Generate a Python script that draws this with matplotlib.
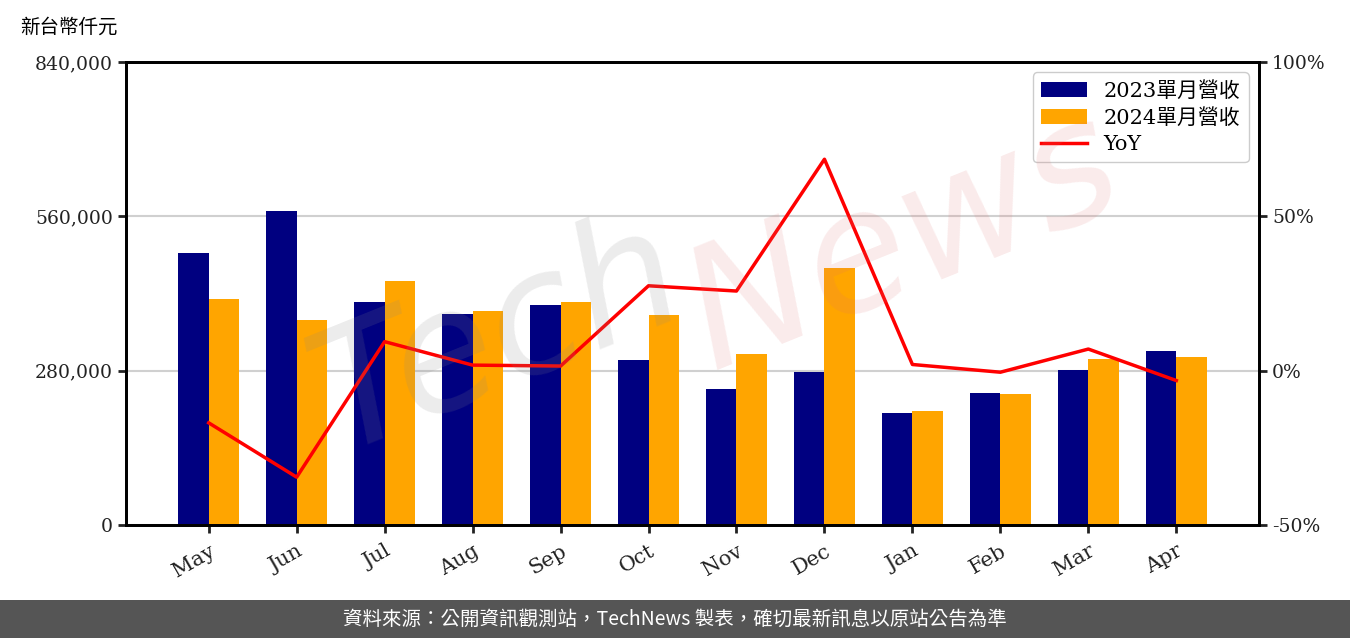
import numpy as np
import matplotlib.pyplot as plt
from matplotlib.ticker import FuncFormatter
import matplotlib.patches as mpatches

plt.rcParams['font.family'] = ['DejaVu Serif', 'Noto Sans CJK TC', 'DejaVu Sans']

months = ['May', 'Jun', 'Jul', 'Aug', 'Sep', 'Oct', 'Nov', 'Dec', 'Jan', 'Feb', 'Mar', 'Apr']
rev_2023 = [493500, 569700, 404600, 382800, 399100, 299400, 246700, 277600, 203200, 239500, 281200, 315700]
rev_2024 = [410000, 371900, 442700, 388300, 404600, 381000, 310200, 466300, 206800, 237700, 301200, 304800]
yoy = [-16.9, -34.5, 9.4, 1.8, 1.5, 27.5, 25.8, 68.5, 2.0, -0.5, 7.0, -3.2]

fig = plt.figure(figsize=(13.5, 6.38), dpi=100)
ax = fig.add_axes([126 / 1350, 1 - 525 / 638, (1259 - 126) / 1350, (525 - 62) / 638])

x = np.arange(len(months))
w = 0.35
ax.bar(x - w, rev_2023, width=w, align='edge', color='#000080', label='2023單月營收', zorder=2)
ax.bar(x, rev_2024, width=w, align='edge', color='#FFA500', label='2024單月營收', zorder=2)

ax.set_xlim(-0.94, 11.94)
ax.set_ylim(0, 840000)
ax.set_yticks([0, 280000, 560000, 840000])
ax.yaxis.set_major_formatter(FuncFormatter(lambda v, p: f'{int(v):,}'))
ax.set_xticks(x)
ax.set_xticklabels(months, rotation=30, ha='right', rotation_mode='anchor')
ax.grid(axis='y', color='#d0d0d0', linewidth=1.5, zorder=0)
ax.tick_params(labelsize=13.5, width=2, length=6, colors='#222222')
ax.tick_params(axis='x', labelsize=15, pad=6)

ax2 = ax.twinx()
ax2.plot(x, yoy, color='red', linewidth=2.5, label='YoY', zorder=3)
ax2.set_ylim(-50, 100)
ax2.set_yticks([-50, 0, 50, 100])
ax2.yaxis.set_major_formatter(FuncFormatter(lambda v, p: f'{int(v)}%'))
ax2.tick_params(labelsize=13.5, width=2, length=6, colors='#222222')

for a in (ax, ax2):
    for s in a.spines.values():
        s.set_linewidth(2)

h1, l1 = ax.get_legend_handles_labels()
h2, l2 = ax2.get_legend_handles_labels()
leg = ax2.legend(h1 + h2, l1 + l2, loc='upper right', fontsize=15, frameon=True,
                 edgecolor='#cccccc', framealpha=1, handlelength=2.2, labelspacing=0.35)
leg.set_zorder(10)

fig.text(20 / 1350, 1 - 27 / 638, '新台幣仟元', fontsize=14, va='center', ha='left')

# watermark
fig.text(0.37, 0.47, 'Tech', fontsize=120, color='#888888', alpha=0.16, rotation=22,
         ha='center', va='center', style='italic', family='DejaVu Sans')
fig.text(0.67, 0.62, 'News', fontsize=120, color='#e07070', alpha=0.14, rotation=22,
         ha='center', va='center', style='italic', family='DejaVu Sans')

# footer band
fig.patches.append(mpatches.Rectangle((0, 0), 1, 38 / 638, transform=fig.transFigure,
                                      facecolor='#555555', edgecolor='none'))
fig.text(0.5, 19 / 638, '資料來源：公開資訊觀測站，TechNews 製表，確切最新訊息以原站公告為準',
         color='white', fontsize=14, ha='center', va='center', family=['Noto Sans CJK TC'])

fig.savefig('out.png', dpi=100)
